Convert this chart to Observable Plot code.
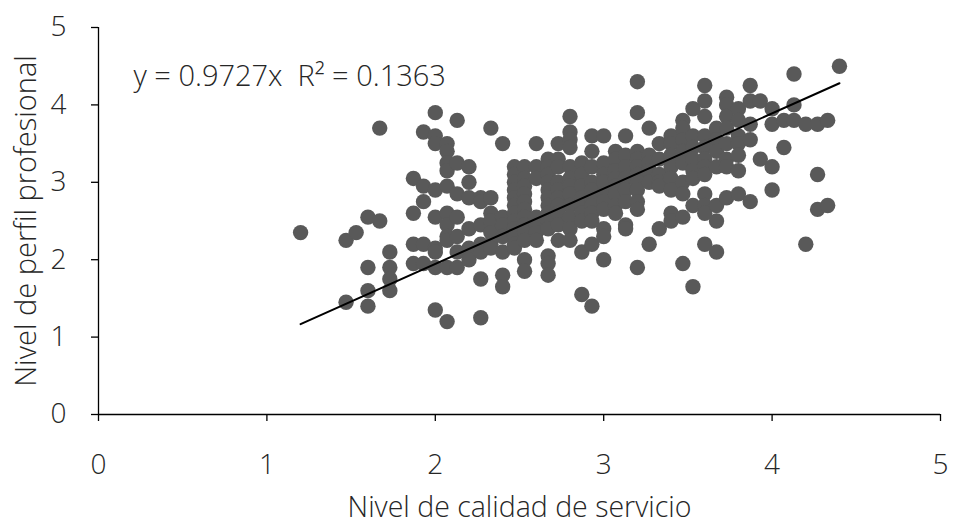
<!DOCTYPE html>
<html>
<head>
<meta charset="utf-8">
<script src="https://cdn.jsdelivr.net/npm/d3@7"></script>
<script src="https://cdn.jsdelivr.net/npm/@observablehq/plot@0.6"></script>
<style>
  html, body { margin: 0; padding: 0; background: #fff; }
  #chart { width: 953px; height: 525px; }
</style>
</head>
<body>
<div id="chart"></div>
<script>
// Nivel de calidad de servicio (x) grouped by level, with the Nivel de perfil profesional values (y)
const calidadNiveles = [1.2, 1.47, 1.53, 1.6, 1.67, 1.73, 1.87, 1.93, 2.0, 2.07, 2.13, 2.2, 2.27, 2.33, 2.4, 2.47, 2.53, 2.6, 2.67, 2.73, 2.8, 2.87, 2.93, 3.0, 3.07, 3.13, 3.2, 3.27, 3.33, 3.4, 3.47, 3.53, 3.6, 3.67, 3.73, 3.8, 3.87, 3.93, 4.0, 4.07, 4.13, 4.2, 4.27, 4.33, 4.4];
const perfilPorNivel = [
  [2.35],
  [2.25, 1.45],
  [2.35],
  [2.55, 1.9, 1.6, 1.4],
  [3.7, 2.5],
  [2.1, 1.9, 1.75, 1.6],
  [3.05, 2.6, 2.2, 1.95],
  [3.65, 2.95, 2.75, 2.2, 1.95],
  [3.9, 3.6, 3.5, 2.9, 2.55, 2.15, 2.1, 1.9, 1.35],
  [3.5, 3.4, 3.25, 3.15, 2.95, 2.6, 2.45, 2.3, 2.25, 1.9, 1.2],
  [3.8, 3.25, 2.85, 2.55, 2.3, 2.1, 1.9],
  [3.2, 3.0, 2.8, 2.4, 2.15, 2.0],
  [2.8, 2.75, 2.45, 2.2, 2.1, 1.75, 1.25],
  [3.7, 2.8, 2.6, 2.5, 2.35, 2.2, 2.15],
  [3.5, 2.55, 2.45, 2.3, 2.1, 1.8, 1.65],
  [3.2, 3.1, 3.0, 2.9, 2.8, 2.7, 2.6, 2.5, 2.4, 2.3, 2.2, 2.15],
  [3.2, 3.05, 2.95, 2.85, 2.75, 2.65, 2.55, 2.45, 2.35, 2.25, 2.0, 1.85],
  [3.5, 3.2, 3.05, 2.55, 2.45, 2.35, 2.25],
  [3.3, 3.2, 3.1, 3.0, 2.9, 2.8, 2.7, 2.6, 2.5, 2.4, 2.05, 1.95, 1.8],
  [3.5, 3.3, 3.2, 3.0, 2.9, 2.8, 2.7, 2.6, 2.45, 2.25],
  [3.85, 3.65, 3.55, 3.45, 3.2, 3.05, 2.95, 2.85, 2.7, 2.55, 2.4, 2.25],
  [3.25, 3.1, 2.95, 2.8, 2.7, 2.6, 2.5, 2.1, 1.55],
  [3.6, 3.4, 3.2, 3.0, 2.9, 2.8, 2.7, 2.6, 2.5, 2.2, 1.4],
  [3.6, 3.25, 3.1, 3.0, 2.85, 2.75, 2.65, 2.4, 2.3, 2.0],
  [3.4, 3.3, 3.15, 3.05, 2.95, 2.85, 2.7, 2.6],
  [3.6, 3.35, 3.2, 3.05, 2.9, 2.75, 2.45, 2.4],
  [4.3, 3.9, 3.4, 3.3, 3.2, 3.1, 3.0, 2.9, 2.75, 2.65, 1.9],
  [3.7, 3.35, 3.25, 3.15, 3.0, 2.2],
  [3.5, 3.3, 3.1, 3.0, 2.95, 2.4],
  [3.6, 3.5, 3.35, 3.2, 3.05, 2.9, 2.6, 2.5],
  [3.8, 3.7, 3.55, 3.4, 3.25, 3.0, 2.85, 2.55, 1.95],
  [3.95, 3.6, 3.45, 3.3, 3.15, 3.05, 2.7, 1.65],
  [4.25, 4.05, 3.85, 3.6, 3.45, 3.3, 3.2, 3.1, 2.85, 2.7, 2.6, 2.2],
  [3.7, 3.55, 3.4, 3.2, 2.7, 2.5, 2.1],
  [4.1, 4.0, 3.85, 3.7, 3.5, 3.3, 3.2, 2.8],
  [3.95, 3.8, 3.6, 3.5, 3.35, 3.15, 2.85],
  [4.25, 4.05, 3.75, 3.55, 2.75],
  [4.05, 3.3],
  [3.95, 3.75, 3.2, 2.9],
  [3.8, 3.45],
  [4.4, 4.0, 3.8],
  [3.75, 2.2],
  [3.75, 3.1, 2.65],
  [3.8, 2.7],
  [4.5]
];
const xTicks = [0, 1, 2, 3, 4, 5];
const yTicks = [0, 1, 2, 3, 4, 5];
const pendiente = 0.9727;
const ecuacion = "y = 0.9727x  R² = 0.1363";
const tituloX = "Nivel de calidad de servicio";
const tituloY = "Nivel de perfil profesional";

const puntos = calidadNiveles.flatMap((x, i) => perfilPorNivel[i].map(y => ({x, y})));
const xMin = d3.min(puntos, d => d.x), xMax = d3.max(puntos, d => d.x);
const tendencia = [xMin, xMax].map(x => ({x, y: pendiente * x}));

const font = "'Open Sans', 'Segoe UI', sans-serif";
const chart = Plot.plot({
  width: 953,
  height: 525,
  marginLeft: 98,
  marginRight: 13,
  marginTop: 27,
  marginBottom: 111,
  x: {domain: [0, 5]},
  y: {domain: [0, 5]},
  style: {fontFamily: font, color: "#262626", background: "#fff", overflow: "visible"},
  marks: [
    Plot.axisX({ticks: xTicks, tickFormat: "d", tickSize: 7, tickPadding: 33, label: null, fontSize: 28, fontWeight: 300, stroke: "#000", strokeWidth: 1.3}),
    Plot.axisY({ticks: yTicks, tickFormat: "d", tickSize: 7, tickPadding: 25, label: null, fontSize: 28, fontWeight: 300, stroke: "#000", strokeWidth: 1.3}),
    Plot.ruleY([0], {stroke: "#000", strokeWidth: 1.3}),
    Plot.ruleX([0], {stroke: "#000", strokeWidth: 1.3}),
    Plot.dot(puntos, {x: "x", y: "y", r: 7.7, fill: "#595959", stroke: "none"}),
    Plot.line(tendencia, {x: "x", y: "y", stroke: "#000", strokeWidth: 2}),
    Plot.text([ecuacion], {frameAnchor: "top-left", dx: 35, dy: 49, text: d => d, fontSize: 29, fontWeight: 300, textAnchor: "start", lineAnchor: "middle", fill: "#262626"}),
    Plot.text([tituloX], {frameAnchor: "bottom", dy: 93, text: d => d, fontSize: 28.5, fontWeight: 300, lineAnchor: "middle", fill: "#262626"}),
    Plot.text([tituloY], {frameAnchor: "left", dx: -72, rotate: -90, text: d => d, fontSize: 29, fontWeight: 300, textAnchor: "middle", lineAnchor: "middle", fill: "#262626"})
  ]
});
document.getElementById("chart").appendChild(chart);
</script>
</body>
</html>
